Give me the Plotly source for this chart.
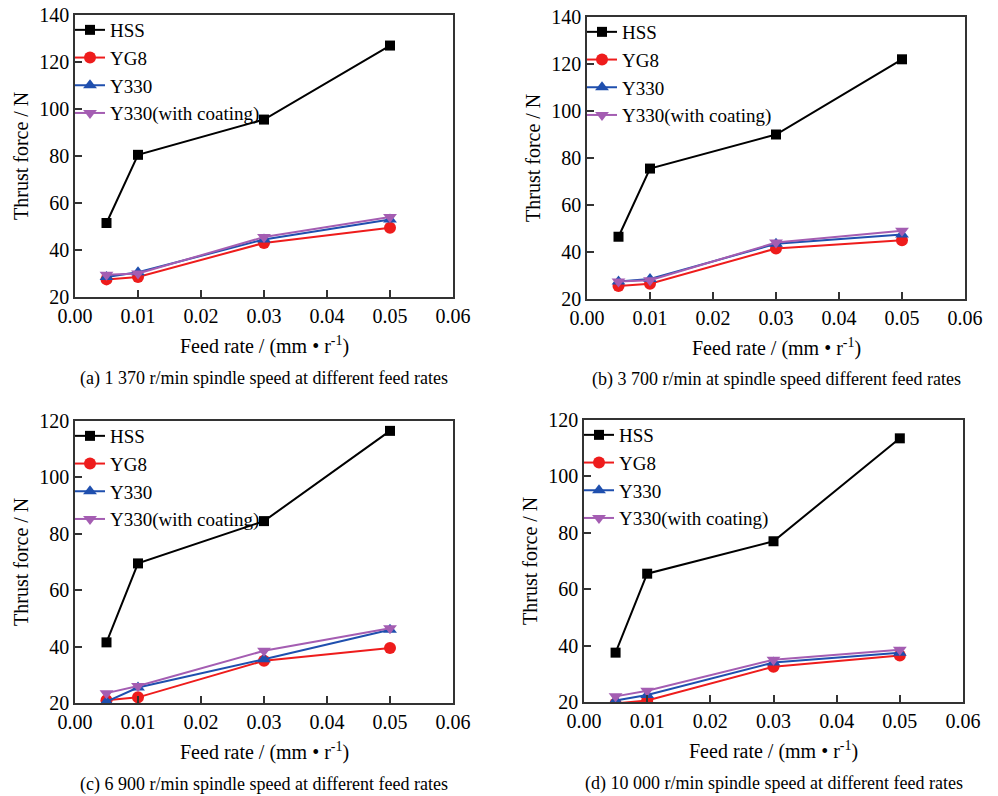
import plotly.graph_objects as go

feed = [0.005, 0.01, 0.03, 0.05]
series_names = ["HSS", "YG8", "Y330", "Y330(with coating)"]

# (a) 1 370 r/min
a_hss = [51.5, 80.5, 95.5, 127.0]
a_yg8 = [27.5, 28.5, 43.0, 49.5]
a_y330 = [28.5, 30.5, 44.5, 53.0]
a_coat = [29.5, 30.0, 45.5, 54.0]
# (b) 3 700 r/min
b_hss = [46.5, 75.5, 90.0, 122.0]
b_yg8 = [25.5, 26.5, 41.5, 45.0]
b_y330 = [27.5, 28.5, 43.5, 47.5]
b_coat = [27.5, 28.0, 44.0, 49.0]
# (c) 6 900 r/min
c_hss = [41.5, 69.5, 84.5, 116.5]
c_yg8 = [21.0, 22.0, 35.0, 39.5]
c_y330 = [20.5, 25.5, 35.5, 46.0]
c_coat = [23.5, 26.0, 38.5, 46.5]
# (d) 10 000 r/min
d_hss = [37.5, 65.5, 77.0, 113.5]
d_yg8 = [19.5, 20.5, 32.5, 36.5]
d_y330 = [20.5, 22.5, 34.0, 37.5]
d_coat = [22.0, 24.0, 35.0, 38.5]

captions = [
    "(a) 1 370 r/min spindle speed at different feed rates",
    "(b) 3 700 r/min at spindle speed different feed rates",
    "(c) 6 900 r/min spindle speed at different feed rates",
    "(d) 10 000 r/min spindle speed at different feed rates",
]
x_title = "Feed rate / (mm • r<sup>-1</sup>)"
y_title = "Thrust force / N"
x_ticks = [0.00, 0.01, 0.02, 0.03, 0.04, 0.05, 0.06]
x_ticklabels = ["0.00", "0.01", "0.02", "0.03", "0.04", "0.05", "0.06"]

panels = [
    [a_hss, a_yg8, a_y330, a_coat],
    [b_hss, b_yg8, b_y330, b_coat],
    [c_hss, c_yg8, c_y330, c_coat],
    [d_hss, d_yg8, d_y330, d_coat],
]
y_ranges = [[20, 140], [20, 140], [20, 120], [20, 120]]

colors = ["#000000", "#EE1C1C", "#1F4FAE", "#A45DB2"]
symbols = ["square", "circle", "triangle-up", "triangle-down"]
msizes = [10, 12, 12, 12]

FONT = "Liberation Serif"
W, H = 998, 796

# pixel boxes in window coordinates (left, right, top, bottom)
boxes = [
    (75, 453, 15, 297),
    (587, 965, 17, 299),
    (75, 453, 421, 703),
    (584, 963, 420, 702),
]

fig = go.Figure()
layout = dict(
    template="none",
    width=W, height=H,
    margin=dict(l=0, r=0, t=0, b=0, pad=0, autoexpand=False),
    paper_bgcolor="white", plot_bgcolor="white",
    font=dict(family=FONT, size=19, color="black"),
    showlegend=True,
)
annotations = []

for i, (vals, yr, box) in enumerate(zip(panels, y_ranges, boxes)):
    n = i + 1
    xa = "x" if n == 1 else f"x{n}"
    ya = "y" if n == 1 else f"y{n}"
    lg = "legend" if n == 1 else f"legend{n}"
    for s, v in enumerate(vals):
        fig.add_trace(go.Scatter(
            x=feed, y=v, name=series_names[s], mode="lines+markers",
            line=dict(color=colors[s], width=2),
            marker=dict(symbol=symbols[s], size=msizes[s], color=colors[s],
                        line=dict(width=0)),
            xaxis=xa, yaxis=ya, legend=lg,
        ))
    l, r, t, b = box
    xd = [l / W, r / W]
    yd = [1 - b / H, 1 - t / H]
    axkey_x = "xaxis" if n == 1 else f"xaxis{n}"
    axkey_y = "yaxis" if n == 1 else f"yaxis{n}"
    layout[axkey_x] = dict(
        domain=xd, range=[0, 0.06], anchor=ya, automargin=False,
        tickvals=x_ticks, ticktext=x_ticklabels, ticklabeloverflow="allow",
        ticks="inside", ticklen=7, tickwidth=1.5, tickcolor="#333",
        showline=True, linecolor="#333", linewidth=1.5, mirror=True,
        showgrid=False, zeroline=False,
        tickfont=dict(family=FONT, size=20, color="black"),
    )
    layout[axkey_y] = dict(
        domain=yd, range=yr, anchor=xa, dtick=20, automargin=False,
        ticklabeloverflow="allow",
        ticks="inside", ticklen=7, tickwidth=1.5, tickcolor="#333",
        showline=True, linecolor="#333", linewidth=1.5, mirror=True,
        showgrid=False, zeroline=False,
        tickfont=dict(family=FONT, size=20, color="black"),
    )
    layout[lg] = dict(
        x=(l - 5) / W, y=1 - (t - 4) / H, xanchor="left", yanchor="top",
        bgcolor="rgba(0,0,0,0)", borderwidth=0,
        font=dict(family=FONT, size=19, color="black"),
        tracegroupgap=0, itemwidth=30,
    )
    cx = (l + r) / 2 / W
    # x axis title
    annotations.append(dict(
        text=x_title, x=cx, y=1 - (b + 48) / H, xref="paper", yref="paper",
        xanchor="center", yanchor="middle", showarrow=False,
        font=dict(family=FONT, size=20, color="black"),
    ))
    # caption
    annotations.append(dict(
        text=captions[i], x=cx, y=1 - (b + 81) / H, xref="paper", yref="paper",
        xanchor="center", yanchor="middle", showarrow=False,
        font=dict(family=FONT, size=18, color="black"),
    ))
    # y axis title
    annotations.append(dict(
        text=y_title, x=(l - 54) / W, y=1 - (t + b) / 2 / H, xref="paper", yref="paper",
        xanchor="center", yanchor="middle", showarrow=False, textangle=-90,
        font=dict(family=FONT, size=20, color="black"),
    ))

layout["annotations"] = annotations
fig.update_layout(**layout)
# remove the default 8px page margin so the figure fills the window exactly
fig.write_html("out.html", config={"displayModeBar": False},
               post_script="document.body.style.margin='0';")
